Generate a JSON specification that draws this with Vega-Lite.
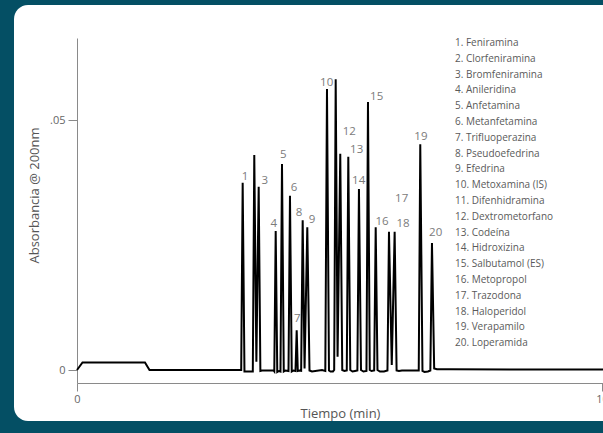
{
  "$schema": "https://vega.github.io/schema/vega-lite/v6.json",
  "width": 609,
  "height": 416,
  "autosize": "none",
  "padding": {"left": 14, "top": 5, "right": -20, "bottom": 12},
  "background": "#044f64",
  "config": {
    "font": "Open Sans",
    "view": {"fill": "white", "stroke": null, "cornerRadius": 14}
  },
  "datasets": {
    "trace": [
      {"t": 0, "v": 0}, {"t": 0.105, "v": 0.0015}, {"t": 1.295, "v": 0.0015}, {"t": 1.381, "v": 0},
      {"t": 3.128, "v": 0}, {"t": 3.156, "v": 0.03746}, {"t": 3.19, "v": -0.0003}, {"t": 3.349, "v": -0.0003},
      {"t": 3.377, "v": 0.043}, {"t": 3.417, "v": 0.00166}, {"t": 3.461, "v": 0.03666}, {"t": 3.493, "v": -0.0002},
      {"t": 3.524, "v": -0.0001}, {"t": 3.743, "v": -0.0001}, {"t": 3.758, "v": -0.0003}, {"t": 3.785, "v": 0.0278},
      {"t": 3.815, "v": -0.0004}, {"t": 3.848, "v": -0.0002}, {"t": 3.876, "v": -0.0003}, {"t": 3.905, "v": 0.0412},
      {"t": 3.939, "v": -0.0003}, {"t": 3.971, "v": -0.0001}, {"t": 4.029, "v": -0.0002}, {"t": 4.057, "v": 0.03486},
      {"t": 4.091, "v": -0.0003}, {"t": 4.124, "v": -0.0001}, {"t": 4.162, "v": -0.0002}, {"t": 4.185, "v": 0.00794},
      {"t": 4.206, "v": -0.0002}, {"t": 4.238, "v": -0.0001}, {"t": 4.27, "v": -0.00016}, {"t": 4.299, "v": 0.02994},
      {"t": 4.335, "v": 0.0003}, {"t": 4.387, "v": 0.02854}, {"t": 4.429, "v": -0.0001}, {"t": 4.476, "v": -0.0003},
      {"t": 4.667, "v": 0}, {"t": 4.73, "v": -0.0002}, {"t": 4.762, "v": 0.0562}, {"t": 4.8, "v": -0.0001},
      {"t": 4.829, "v": -0.0003}, {"t": 4.876, "v": -0.0003}, {"t": 4.899, "v": 0}, {"t": 4.928, "v": 0.05814},
      {"t": 4.964, "v": 0.00266}, {"t": 5.015, "v": 0.04326}, {"t": 5.053, "v": 0}, {"t": 5.095, "v": -0.0002},
      {"t": 5.139, "v": -0.0001}, {"t": 5.168, "v": 0.04266}, {"t": 5.206, "v": 0}, {"t": 5.248, "v": -0.0003},
      {"t": 5.295, "v": -0.0002}, {"t": 5.341, "v": -0.0001}, {"t": 5.371, "v": 0.0362}, {"t": 5.41, "v": 0},
      {"t": 5.457, "v": -0.0003}, {"t": 5.514, "v": -0.0002}, {"t": 5.543, "v": 0.0536}, {"t": 5.577, "v": 0},
      {"t": 5.61, "v": -0.0002}, {"t": 5.661, "v": -0.0001}, {"t": 5.69, "v": 0.02854}, {"t": 5.724, "v": 0},
      {"t": 5.771, "v": -0.0003}, {"t": 5.848, "v": -0.0003}, {"t": 5.914, "v": -0.0001}, {"t": 5.943, "v": 0.02766},
      {"t": 5.996, "v": 0.001}, {"t": 6.051, "v": 0.02766}, {"t": 6.088, "v": -0.0001}, {"t": 6.133, "v": -0.0002},
      {"t": 6.19, "v": -0.0001}, {"t": 6.51, "v": -0.0001}, {"t": 6.539, "v": 0.04514}, {"t": 6.581, "v": -0.0002},
      {"t": 6.619, "v": -0.0004}, {"t": 6.686, "v": -0.0003}, {"t": 6.731, "v": -0.0001}, {"t": 6.762, "v": 0.0254},
      {"t": 6.804, "v": 0.0003}, {"t": 6.857, "v": 0.00014}, {"t": 7.105, "v": 0.00014}, {"t": 10.02, "v": 0.0001}
    ],
    "labels": [
      {"num": "1", "name": "1. Feniramina", "lt": 3.2, "lv": 0.0386},
      {"num": "3", "name": "3. Bromfeniramina", "lt": 3.575, "lv": 0.03786},
      {"num": "4", "name": "4. Anileridina", "lt": 3.747, "lv": 0.0292},
      {"num": "5", "name": "5. Anfetamina", "lt": 3.93, "lv": 0.043},
      {"num": "6", "name": "6. Metanfetamina", "lt": 4.133, "lv": 0.0364},
      {"num": "7", "name": "7. Trifluoperazina", "lt": 4.196, "lv": 0.0102},
      {"num": "8", "name": "8. Pseudoefedrina", "lt": 4.229, "lv": 0.0314},
      {"num": "9", "name": "9. Efedrina", "lt": 4.476, "lv": 0.03},
      {"num": "10", "name": "10. Metoxamina (IS)", "lt": 4.756, "lv": 0.05746},
      {"num": "12", "name": "12. Dextrometorfano", "lt": 5.187, "lv": 0.04766},
      {"num": "13", "name": "13. Codeína", "lt": 5.328, "lv": 0.044},
      {"num": "14", "name": "14. Hidroxizina", "lt": 5.366, "lv": 0.03786},
      {"num": "15", "name": "15. Salbutamol (ES)", "lt": 5.709, "lv": 0.05454},
      {"num": "16", "name": "16. Metopropol", "lt": 5.81, "lv": 0.0296},
      {"num": "17", "name": "17. Trazodona", "lt": 6.185, "lv": 0.03414},
      {"num": "18", "name": "18. Haloperidol", "lt": 6.21, "lv": 0.02914},
      {"num": "19", "name": "19. Verapamilo", "lt": 6.552, "lv": 0.04666},
      {"num": "20", "name": "20. Loperamida", "lt": 6.832, "lv": 0.02734}
    ]
  },
  "layer": [
    {
      "data": {"name": "trace"},
      "mark": {"type": "line", "color": "black", "strokeWidth": 2, "clip": true},
      "encoding": {
        "x": {
          "field": "t", "type": "quantitative",
          "scale": {"domain": [0, 10.02], "range": [63, 589], "nice": false, "zero": false},
          "axis": {
            "title": "Tiempo (min)", "values": [0, 10], "format": "d", "grid": false,
            "offset": -38, "domainColor": "#8a8a8a", "tickColor": "#8a8a8a", "tickSize": 8,
            "labelFontSize": 11, "labelColor": "#666666", "labelPadding": 2, "labelFlush": false,
            "titleFontSize": 13, "titleColor": "#555555", "titleFontWeight": "normal", "titlePadding": 3
          }
        },
        "y": {
          "field": "v", "type": "quantitative",
          "scale": {"domain": [-0.0026, 0.0664], "range": [378, 33], "nice": false, "zero": false},
          "axis": {
            "title": "Absorbancia @ 200nm", "values": [0, 0.05],
            "labelExpr": "datum.value == 0 ? '0' : '.05'", "grid": false,
            "offset": -63, "domainColor": "#8a8a8a", "tickColor": "#8a8a8a", "tickSize": 9,
            "labelFontSize": 11, "labelColor": "#666666", "labelPadding": 3,
            "titleFontSize": 13, "titleColor": "#555555", "titleFontWeight": "normal",
            "titleX": -36, "titleY": 190
          }
        }
      }
    },
    {
      "data": {"name": "labels"},
      "mark": {"type": "text", "fontSize": 11.5, "baseline": "middle", "align": "center"},
      "encoding": {
        "x": {"field": "lt", "type": "quantitative"},
        "y": {"field": "lv", "type": "quantitative"},
        "text": {"field": "num"},
        "color": {
          "field": "name", "type": "nominal",
          "scale": {
            "domain": ["1. Feniramina", "2. Clorfeniramina", "3. Bromfeniramina", "4. Anileridina", "5. Anfetamina",
                       "6. Metanfetamina", "7. Trifluoperazina", "8. Pseudoefedrina", "9. Efedrina", "10. Metoxamina (IS)",
                       "11. Difenhidramina", "12. Dextrometorfano", "13. Codeína", "14. Hidroxizina", "15. Salbutamol (ES)",
                       "16. Metopropol", "17. Trazodona", "18. Haloperidol", "19. Verapamilo", "20. Loperamida"],
            "range": ["#7b7b7b", "#7b7b7b", "#7b7b7b", "#7b7b7b", "#7b7b7b", "#7b7b7b", "#7b7b7b", "#7b7b7b", "#7b7b7b", "#7b7b7b",
                      "#7b7b7b", "#7b7b7b", "#7b7b7b", "#7b7b7b", "#7b7b7b", "#7b7b7b", "#7b7b7b", "#7b7b7b", "#7b7b7b", "#7b7b7b"]
          },
          "legend": {
            "title": null, "orient": "none", "legendX": 431, "legendY": 33,
            "symbolOpacity": 0, "symbolSize": 0, "symbolStrokeWidth": 0, "labelOffset": 0,
            "padding": 0, "rowPadding": 5.8, "labelFontSize": 10, "labelColor": "#5a5a5a",
            "labelLimit": 200
          }
        }
      }
    }
  ]
}
